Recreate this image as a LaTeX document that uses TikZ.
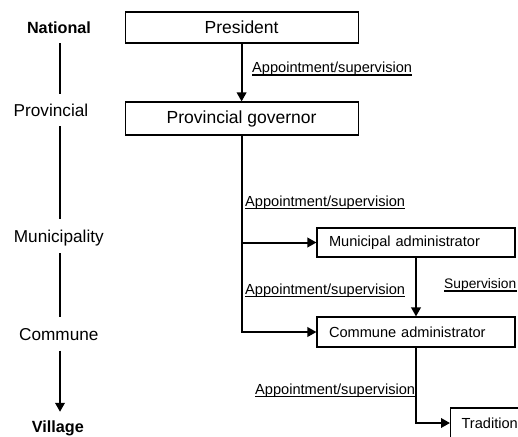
\documentclass[tikz,border=0pt]{standalone}
\usepackage{fontspec}
\setmainfont{Liberation Sans}
\usetikzlibrary{arrows.meta}
\begin{document}
\begin{tikzpicture}[x=1pt,y=-1pt,
  level/.style={inner sep=0pt, text height=12.2pt, text depth=0pt,
    font=\fontsize{17.2}{19}\selectfont},
  levelbold/.style={level, font=\fontsize{16.2}{18}\selectfont\bfseries},
  topbox/.style={draw, line width=1.1pt, inner sep=0pt, minimum width=233pt,
    font=\fontsize{17.5}{19}\selectfont},
  subbox/.style={draw, line width=1.1pt, inner xsep=12pt, inner ysep=0pt,
    text width=174pt, align=left, font=\fontsize{14.6}{16}\selectfont},
  rel/.style={inner sep=0pt, anchor=base west, font=\fontsize{14.6}{16}\selectfont},
  ul/.style={line width=1.3pt},
  conn/.style={line width=2pt, -{Triangle[length=9pt,width=9.5pt]}},
  axisline/.style={line width=2pt},
]
\useasboundingbox (0,0) rectangle (518,436);
\clip (0,0) rectangle (518,436);

% administrative levels
\coordinate (ax) at (60,0);
\node[levelbold, minimum height=32pt] (nat) at (59,27) {National};
\node[level, minimum height=32pt] (prov) at (51,110) {Provincial};
\node[level, minimum height=34pt] (munl) at (58.8,236) {Municipality};
\node[level, minimum height=33pt] (coml) at (58.8,334) {Commune};
\node[levelbold, minimum height=28pt] (vil) at (57.8,426) {Village};

\draw[axisline] (nat.south -| ax) -- (prov.north -| ax);
\draw[axisline] (prov.south -| ax) -- (munl.north -| ax);
\draw[axisline] (munl.south -| ax) -- (coml.north -| ax);
\draw[conn] (coml.south -| ax) -- (vil.north -| ax);

% offices
\node[topbox, minimum height=31pt] (pres) at (241.6,27.5) {President};
\node[topbox, minimum height=33pt] (gov) at (241.6,118.5) {Provincial governor};
\node[subbox, minimum height=29pt] (muni) at (416,242.5) {Municipal administrator};
\node[subbox, minimum height=30pt] (comm) at (416,332) {Commune administrator};
\node[draw, line width=1.1pt, inner xsep=11pt, inner ysep=0pt, text width=128pt,
  align=left, minimum height=30pt, anchor=west,
  font=\fontsize{14.6}{16}\selectfont] (trad) at (450,423) {Tradition};

% lines of authority
\draw[conn] (pres.south) -- (gov.north);
\draw[conn] (gov.south) |- (comm.west);
\draw[conn] (gov.south |- muni.west) -- (muni.west);
\draw[conn] (muni.south) -- (comm.north);
\draw[conn] (comm.south) |- (trad.west);

% relation labels
\node[rel] (r1) at (252,72.5) {Appointment/supervision};
\node[rel] (r2) at (245,206) {Appointment/supervision};
\node[rel, font=\fontsize{13.8}{15}\selectfont] (r3) at (444,288.5) {Supervision};
\node[rel] (r4) at (245,294) {Appointment/supervision};
\node[rel] (r5) at (255,394) {Appointment/supervision};
\foreach \r in {r1,r2,r3,r4,r5}
  \draw[ul] ([yshift=-2.5pt]\r.base west) -- ([yshift=-2.5pt]\r.base east);
\end{tikzpicture}
\end{document}
